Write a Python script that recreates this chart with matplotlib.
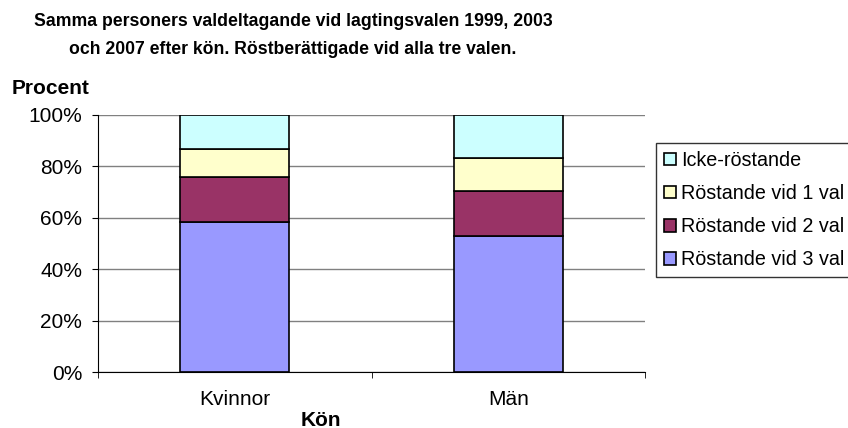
import matplotlib
matplotlib.use("Agg")
import matplotlib.pyplot as plt
import numpy as np

plt.rcParams["font.family"] = ["Liberation Sans", "DejaVu Sans"]

categories = ["Kvinnor", "Män"]
series = ["Röstande vid 3 val", "Röstande vid 2 val", "Röstande vid 1 val", "Icke-röstande"]
val_3 = [58.3, 52.9]
val_2 = [17.4, 17.4]
val_1 = [11.2, 13.0]
ickeröst = [13.1, 16.7]
colors = ["#9999ff", "#993366", "#ffffcc", "#ccffff"]

fig = plt.figure(figsize=(8.48, 4.28), dpi=100)
ax = fig.add_axes([98 / 848, 1 - 372 / 428, (645 - 98) / 848, (372 - 115) / 428])

x = np.arange(len(categories))
bottom = np.zeros(len(categories))
handles = []
for name, vals, c in zip(series, [val_3, val_2, val_1, ickeröst], colors):
    b = ax.bar(x, vals, 0.4, bottom=bottom, color=c, edgecolor="black", linewidth=1.2,
               label=name, zorder=3)
    handles.append(b)
    bottom += np.array(vals)

fs = 15
ax.set_xlim(-0.5, 1.5)
ax.set_ylim(0, 100)
ax.set_yticks(range(0, 101, 20))
ax.set_yticklabels([f"{v}%" for v in range(0, 101, 20)], fontsize=fs)
ax.set_xticks(x)
ax.set_xticklabels(categories, fontsize=fs)
ax.set_xticks([-0.5, 0.5, 1.5], minor=True)
ax.tick_params(axis="x", which="major", length=0, pad=13)
ax.tick_params(axis="x", which="minor", length=4, direction="out")
ax.tick_params(axis="y", length=4.5, direction="out", pad=7)
ax.yaxis.grid(True, color="#808080", linewidth=1, zorder=0)
for s in ["top", "right"]:
    ax.spines[s].set_visible(False)
for s in ["left", "bottom"]:
    ax.spines[s].set_color("black")
    ax.spines[s].set_zorder(4)

fig.text(293 / 848, 1 - 21 / 428, "Samma personers valdeltagande vid lagtingsvalen 1999, 2003",
         ha="center", va="center", fontsize=12.7, fontweight="bold")
fig.text(293 / 848, 1 - 49 / 428, "och 2007 efter kön. Röstberättigade vid alla tre valen.",
         ha="center", va="center", fontsize=12.7, fontweight="bold")
fig.text(12 / 848, 1 - 88 / 428, "Procent", ha="left", va="center", fontsize=fs, fontweight="bold")
fig.text(321 / 848, 1 - 420 / 428, "Kön", ha="center", va="center", fontsize=fs, fontweight="bold")

leg = fig.legend(handles[::-1], series[::-1], loc="upper left",
                 bbox_to_anchor=(656 / 848, 1 - 143 / 428), fontsize=14.2,
                 frameon=True, fancybox=False, edgecolor="black",
                 handlelength=0.6, handleheight=0.6, handletextpad=0.25,
                 labelspacing=0.72, borderpad=0.4, borderaxespad=0)
leg.get_frame().set_linewidth(1)

fig.savefig("out.png", dpi=100)
